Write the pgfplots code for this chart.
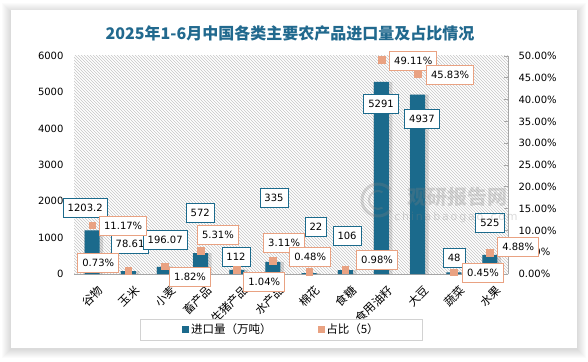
\documentclass[border=0pt]{standalone}
\usepackage{pgfplots}
\pgfplotsset{compat=1.18}
\usepackage{fontspec}
\setmainfont{DejaVu Sans}
\newfontfamily\cjk{Noto Sans CJK SC}
\usetikzlibrary{patterns}
\definecolor{barblue}{HTML}{1B6A8C}
\definecolor{salmon}{HTML}{E9A282}
\definecolor{titleblue}{HTML}{21698E}
\tikzset{
 vlab/.style={draw=barblue, fill=white, line width=0.8pt, inner xsep=4.5pt, minimum height=19pt, font=\fontsize{10}{12}\selectfont},
 plab/.style={draw=salmon, fill=white, line width=0.8pt, inner xsep=4.5pt, minimum height=19pt, font=\fontsize{10}{12}\selectfont},
}
\begin{document}
\begin{tikzpicture}
\useasboundingbox (0pt,0pt) rectangle (588pt,361pt);
\fill[white] (0pt,0pt) rectangle (588pt,361pt);
\foreach \i in {1,...,9}{\fill[black,opacity=0.016] (11pt-\i pt,12pt-\i pt) rectangle (577pt+\i pt,349pt+\i pt);}
\fill[white] (11pt,13pt) rectangle (577pt,351pt);
\node[font=\cjk\bfseries\fontsize{16}{18}\selectfont, text=titleblue] at (290pt,328pt) {2025年1-6月中国各类主要农产品进口量及占比情况};
\coordinate (O) at (74pt,87pt);

\begin{axis}[
 at={(O)}, anchor=south west, scale only axis, width=434pt, height=218pt,
 xmin=-0.5, xmax=11.5, ymin=0, ymax=6000,
 axis background/.style={pattern=north west lines, pattern color=gray!45},
 axis x line*=bottom, axis y line*=left,
 x axis line style={draw=gray!70, line width=0.8pt},
 y axis line style={draw=none},
 xtick={0,...,11},
 xticklabels={谷物,玉米,小麦,畜产品,生猪产品,水产品,棉花,食糖,食用油籽,大豆,蔬菜,水果},
 xticklabel style={font=\cjk\fontsize{11.5}{12}\selectfont, rotate=45, anchor=east, xshift=3pt, yshift=-13pt},
 ytick={0,1000,...,6000},
 yticklabel style={font=\fontsize{10}{12}\selectfont, xshift=-7pt},
 /pgf/number format/assume math mode=true,
 /pgf/number format/set thousands separator={},
 tick style={draw=none},
 ybar, bar width=15pt,
 clip=false,
]
\addplot[fill=black, opacity=0.13, draw=none, bar width=19pt, bar shift=1.5pt] coordinates {(0,1203.2) (1,78.61) (2,196.07) (3,572) (4,112) (5,335) (6,22) (7,106) (8,5291) (9,4937) (10,48) (11,525)};
\addplot[fill=barblue, draw=none, bar shift=0pt] coordinates {(0,1203.2) (1,78.61) (2,196.07) (3,572) (4,112) (5,335) (6,22) (7,106) (8,5291) (9,4937) (10,48) (11,525)};
\end{axis}

\begin{axis}[
 at={(O)}, anchor=south west, scale only axis, width=434pt, height=218pt,
 xmin=-0.5, xmax=11.5, ymin=0, ymax=50,
 axis x line=none, axis y line*=right,
 y axis line style={draw=gray!70, line width=0.8pt},
 ytick={0,5,...,50},
 yticklabel={\pgfmathprintnumber[fixed,fixed zerofill,precision=2]{\tick}\%},
 /pgf/number format/assume math mode=true,
 ytick style={draw=gray!70, line width=0.8pt}, tick align=inside, major tick length=4pt,
 yticklabel style={font=\fontsize{10}{12}\selectfont, xshift=7pt},
 clip=false,
 legend style={at={(0.478,-0.255)}, anchor=center, draw=gray!35, line width=0.8pt, fill=white,
   font=\cjk\fontsize{11.5}{13}\selectfont, inner xsep=42pt, inner ysep=3pt,
   /tikz/every even column/.append style={column sep=44pt}},
 legend columns=2,
]
\addlegendimage{legend image code/.code={\fill[barblue] (0pt,-3pt) rectangle (6pt,3pt);}}
\addlegendentry{进口量（万吨）}
\addplot[only marks, mark=square*, mark size=3.3pt, color=salmon,
  legend image code/.code={\fill[salmon] (0pt,-3pt) rectangle (6pt,3pt);}]
  coordinates {(0,11.17) (1,0.73) (2,1.82) (3,5.31) (4,1.04) (5,3.11) (6,0.48) (7,0.98) (8,49.11) (9,45.83) (10,0.45) (11,4.88)};
\addlegendentry{占比（5）}
% value labels
\node[vlab] at (axis cs:1.05,6.88) {78.61};
\node[vlab] at (axis cs:-0.19,15.14) {1203.2};
\node[vlab] at (axis cs:2.02,7.80) {196.07};
\node[vlab] at (axis cs:2.99,13.99) {572};
\node[vlab] at (axis cs:3.98,3.90) {112};
\node[vlab] at (axis cs:5.03,17.43) {335};
\node[vlab] at (axis cs:6.19,10.78) {22};
\node[vlab] at (axis cs:7.05,8.72) {106};
\node[vlab] at (axis cs:7.99,38.99) {5291};
\node[vlab] at (axis cs:9.12,35.55) {4937};
\node[vlab] at (axis cs:10.01,3.67) {48};
\node[vlab] at (axis cs:11.00,11.70) {525};
% percent labels
\node[plab] at (axis cs:0.86,11.01) {11.17\%};
\node[plab] at (axis cs:0.17,2.52) {0.73\%};
\node[plab] at (axis cs:2.71,-0.69) {1.82\%};
\node[plab] at (axis cs:3.48,8.94) {5.31\%};
\node[plab] at (axis cs:4.76,-1.83) {1.04\%};
\node[plab] at (axis cs:5.31,7.11) {3.11\%};
\node[plab] at (axis cs:6.03,3.90) {0.48\%};
\node[plab] at (axis cs:7.88,3.21) {0.98\%};
\node[plab] at (axis cs:8.88,48.85) {49.11\%};
\node[plab] at (axis cs:9.90,45.64) {45.83\%};
\node[plab] at (axis cs:10.81,0.23) {0.45\%};
\node[plab] at (axis cs:11.78,6.19) {4.88\%};
\end{axis}

% watermark
\begin{scope}[opacity=0.28]
\draw[gray, line width=3pt] (378pt,161pt) ++(40:16pt) arc (40:320:16pt);
\draw[gray, line width=2pt] (378pt,161pt) ++(60:9pt) arc (60:300:9pt);
\node[text=gray, font=\cjk\bfseries\fontsize{20}{22}\selectfont] at (457pt,164pt) {观研报告网};
\node[text=gray, font=\fontsize{11}{12}\selectfont] at (456pt,144pt) {c\,h\,i\,n\,a\,b\,a\,o\,g\,a\,o\,.\,c\,o\,m};
\end{scope}
\end{tikzpicture}
\end{document}
